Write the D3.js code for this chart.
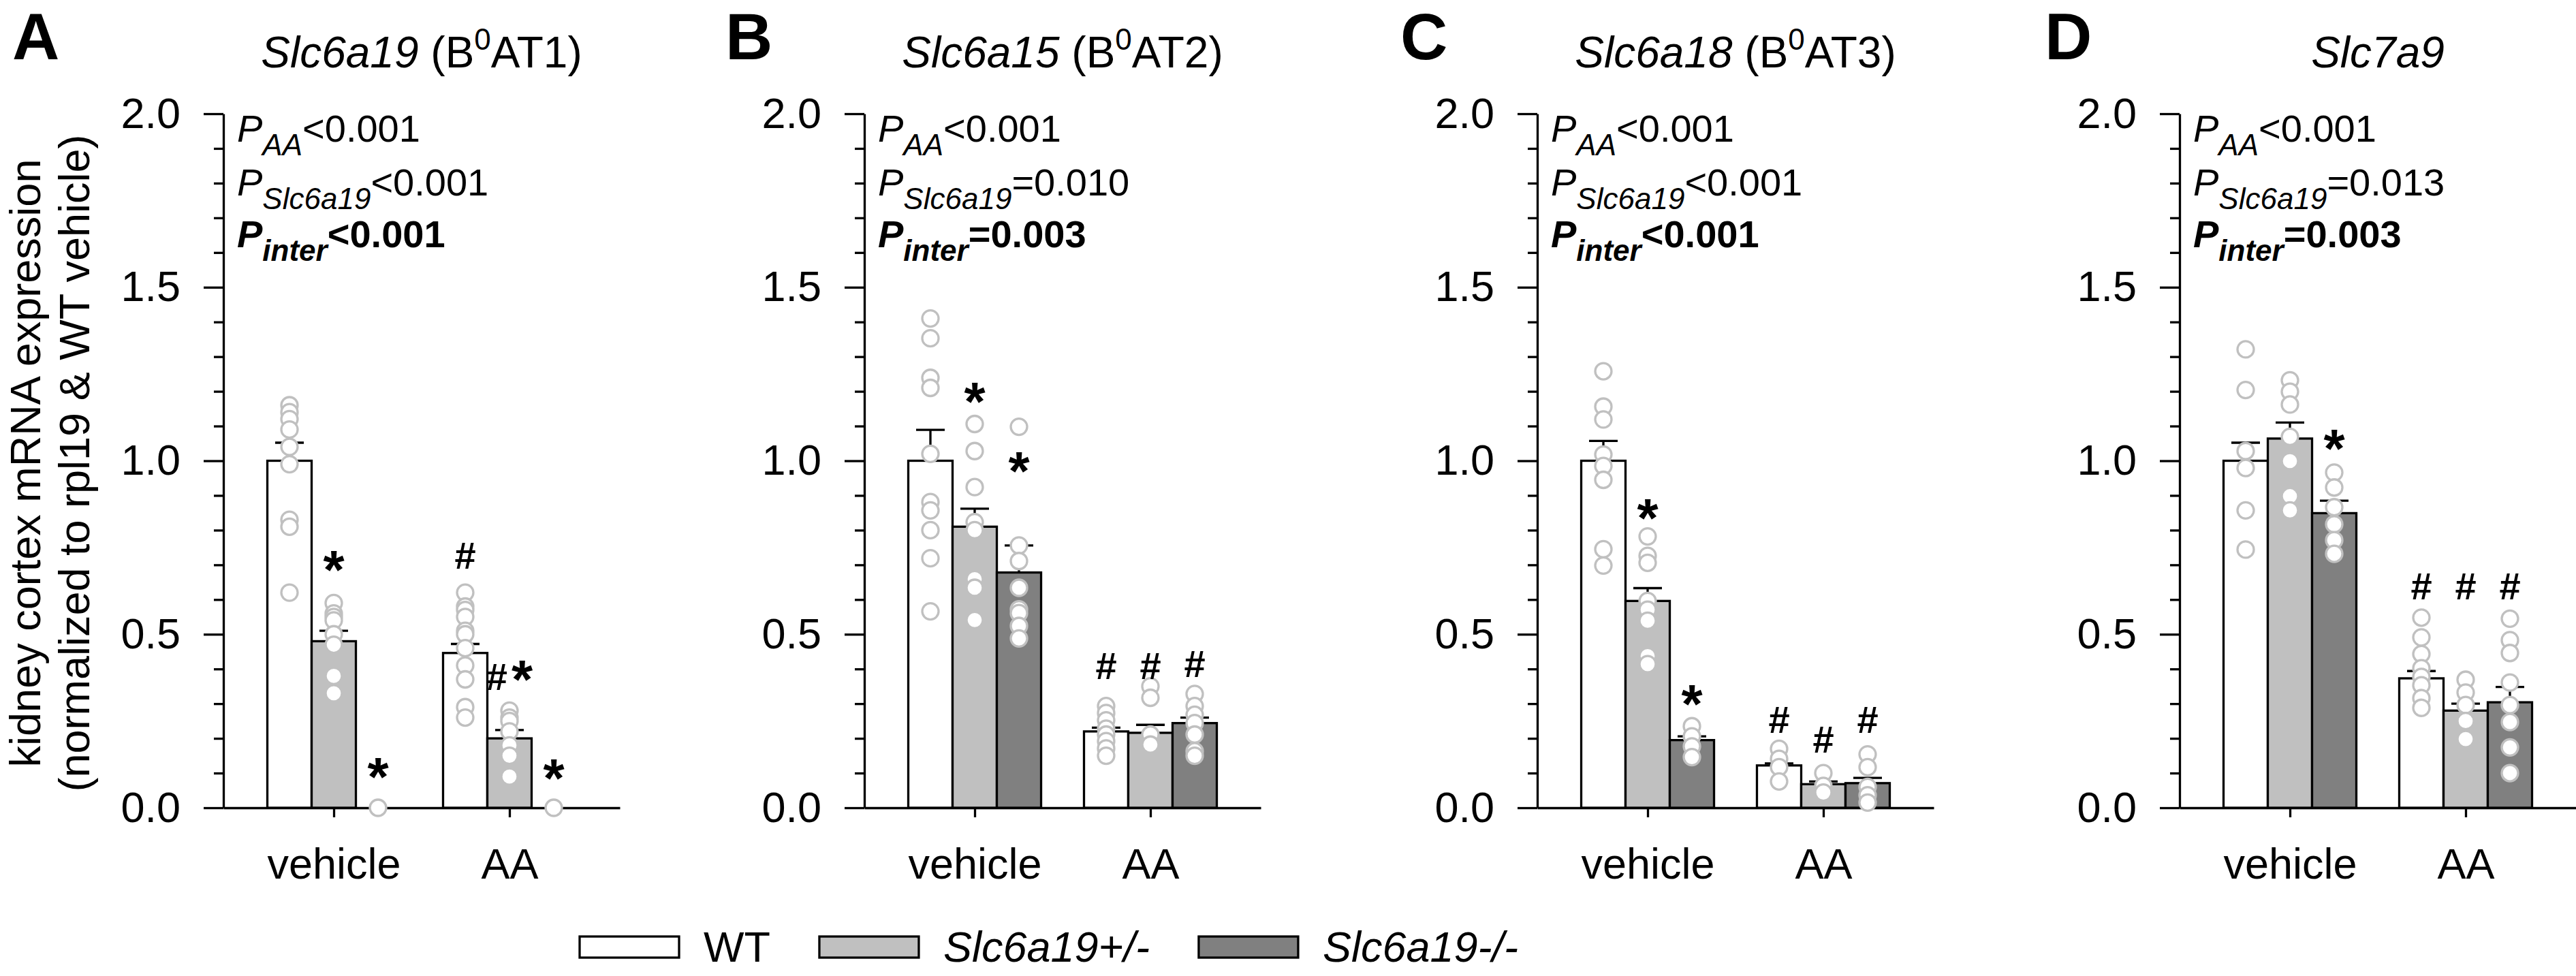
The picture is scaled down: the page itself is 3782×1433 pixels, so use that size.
<!DOCTYPE html>
<html>
<head>
<meta charset="utf-8">
<script src="https://cdn.jsdelivr.net/npm/d3@7"></script>
<style>
body { margin: 0; background: #fff; }
svg text { font-family: "Liberation Sans", Arial, sans-serif; }
</style>
</head>
<body>
<svg width="3782" height="1433"></svg>
<script>
// ---- data ----
var groups = ["vehicle", "AA"];
var genotypes = ["WT", "Slc6a19+/-", "Slc6a19-/-"];
var letters = ["A", "B", "C", "D"];
var genes = ["Slc6a19", "Slc6a15", "Slc6a18", "Slc7a9"];
var proteins = ["AT1", "AT2", "AT3", null];   // shown as (B^0 ...)
var pAA = ["<0.001", "<0.001", "<0.001", "<0.001"];
var pSlc = ["<0.001", "=0.010", "<0.001", "=0.013"];
var pInter = ["<0.001", "=0.003", "<0.001", "=0.003"];
var yTicks = [0, 0.5, 1.0, 1.5, 2.0];

// order of bars: vehicle WT, +/-, -/-, AA WT, +/-, -/-
var meansA = [1.00, 0.48, 0.00, 0.446, 0.20, 0.00];
var semA   = [0.052, 0.03, 0, 0.026, 0.024, 0];
var pointsA = [
  [1.16, 1.14, 1.12, 1.09, 1.04, 0.99, 0.83, 0.81, 0.62],
  [0.59, 0.56, 0.55, 0.54, 0.50, 0.47, 0.38, 0.33],
  [0.0],
  [0.62, 0.58, 0.57, 0.55, 0.51, 0.50, 0.46, 0.41, 0.37, 0.29, 0.26],
  [0.28, 0.26, 0.25, 0.22, 0.18, 0.15, 0.09],
  [0.0]
];
var marksA = ["", "*", "*", "#", "#*", "*"];
var markYA = [0, 0.685, 0.09, 0.728, 0.37, 0.085];

var meansB = [1.00, 0.81, 0.678, 0.22, 0.216, 0.244];
var semB   = [0.089, 0.052, 0.078, 0.011, 0.023, 0.016];
var pointsB = [
  [1.41, 1.353, 1.239, 1.21, 1.02, 0.881, 0.857, 0.80, 0.719, 0.566],
  [1.106, 1.028, 0.924, 0.823, 0.80, 0.659, 0.634, 0.541],
  [1.098, 0.756, 0.711, 0.634, 0.572, 0.561, 0.524, 0.488],
  [0.293, 0.273, 0.252, 0.228, 0.211, 0.192, 0.171, 0.15],
  [0.35, 0.317, 0.211, 0.182],
  [0.328, 0.293, 0.268, 0.244, 0.211, 0.163, 0.15]
];
var marksB = ["", "*", "*", "#", "#", "#"];
var markYB = [0, 1.17, 0.97, 0.41, 0.41, 0.415];

var meansC = [1.00, 0.596, 0.195, 0.122, 0.068, 0.071];
var semC   = [0.057, 0.037, 0.011, 0.006, 0.008, 0.015];
var pointsC = [
  [1.258, 1.156, 1.119, 1.018, 0.985, 0.945, 0.745, 0.698],
  [0.782, 0.726, 0.706, 0.596, 0.571, 0.539, 0.437, 0.414],
  [0.235, 0.206, 0.177, 0.146],
  [0.17, 0.141, 0.117, 0.076],
  [0.10, 0.063, 0.044],
  [0.154, 0.117, 0.06, 0.036, 0.015]
];
var marksC = ["", "*", "*", "#", "#", "#"];
var markYC = [0, 0.836, 0.299, 0.255, 0.198, 0.255];

var meansD = [1.00, 1.064, 0.849, 0.373, 0.28, 0.304];
var semD   = [0.052, 0.046, 0.036, 0.021, 0.02, 0.044];
var pointsD = [
  [1.321, 1.204, 1.028, 0.979, 0.857, 0.744],
  [1.232, 1.199, 1.162, 1.069, 0.999, 0.898, 0.857],
  [0.966, 0.923, 0.866, 0.817, 0.771, 0.732],
  [0.548, 0.491, 0.443, 0.402, 0.377, 0.353, 0.316, 0.288],
  [0.369, 0.332, 0.296, 0.25, 0.198],
  [0.545, 0.483, 0.446, 0.361, 0.296, 0.247, 0.174, 0.10]
];
var marksD = ["", "", "*", "#", "#", "#"];
var markYD = [0, 0, 1.036, 0.638, 0.638, 0.638];

var means = [meansA, meansB, meansC, meansD],
    sems = [semA, semB, semC, semD],
    points = [pointsA, pointsB, pointsC, pointsD],
    marks = [marksA, marksB, marksC, marksD],
    markY = [markYA, markYB, markYC, markYD];

// ---- layout ----
var svg = d3.select("svg"),
    panelX = [328, 1269, 2257, 3200],
    letterX = [18, 1065, 2056, 3002],
    plotW = 582,
    lw = 3.3,
    fs = 63;

var y = d3.scaleLinear().domain([0, 2]).range([1186, 167]);
var x = d3.scalePoint().domain(groups).range([0, plotW]).padding(0.628);
var xs = d3.scaleBand().domain(genotypes).range([-97.5, 97.5]);
var fill = d3.scaleOrdinal().domain(genotypes).range(["#ffffff", "#c0c0c0", "#808080"]);

function styleAxis(sel) {
  sel.selectAll("path, line").attr("stroke", "#000").attr("stroke-width", lw);
  sel.selectAll("text").attr("font-size", fs).attr("fill", "#000")
     .attr("font-family", "'Liberation Sans', Arial, sans-serif");
  sel.attr("font-family", null).attr("font-size", null);
}

letters.forEach(function(letter, i) {
  svg.append("text")
    .attr("x", letterX[i]).attr("y", 87)
    .attr("font-size", 96).attr("font-weight", "bold")
    .text(letter);

  var g = svg.append("g").attr("transform", "translate(" + panelX[i] + ",0)");

  // title
  var t = g.append("text").attr("x", plotW / 2).attr("y", 99)
    .attr("text-anchor", "middle").attr("font-size", 64);
  t.append("tspan").attr("font-style", "italic").text(genes[i]);
  if (proteins[i]) {
    t.append("tspan").text(" (B");
    t.append("tspan").attr("font-size", 44).attr("dy", -26).text("0");
    t.append("tspan").attr("dy", 26).text(proteins[i] + ")");
  }

  // minor y ticks
  var minor = d3.range(1, 20).filter(function(k) { return k % 5 != 0; })
    .map(function(k) { return k / 10; });
  g.append("g")
    .call(d3.axisLeft(y).tickValues(minor).tickSize(14).tickFormat(""))
    .call(function(s) { s.select(".domain").remove(); })
    .call(styleAxis);

  // major y axis
  g.append("g")
    .call(d3.axisLeft(y).tickValues(yTicks).tickSize(29).tickSizeOuter(0)
      .tickPadding(34).tickFormat(d3.format(".1f")))
    .call(styleAxis);

  // x axis
  g.append("g")
    .attr("transform", "translate(0," + y(0) + ")")
    .call(d3.axisBottom(x).tickSize(14).tickSizeOuter(0).tickPadding(45))
    .call(styleAxis);

  // bars
  var rows = [];
  groups.forEach(function(grp, gi) {
    genotypes.forEach(function(gt, ti) {
      var k = gi * 3 + ti;
      rows.push({group: grp, geno: gt, mean: means[i][k], sem: sems[i][k],
                 pts: points[i][k], mark: marks[i][k], markY: markY[i][k]});
    });
  });
  var cx = function(d) { return x(d.group) + xs(d.geno) + xs.bandwidth() / 2; };

  g.append("g").selectAll("rect")
    .data(rows.filter(function(d) { return d.mean > 0; }))
    .enter().append("rect")
    .attr("x", function(d) { return x(d.group) + xs(d.geno); })
    .attr("width", xs.bandwidth())
    .attr("y", function(d) { return y(d.mean); })
    .attr("height", function(d) { return y(0) - y(d.mean); })
    .attr("fill", function(d) { return fill(d.geno); })
    .attr("stroke", "#000").attr("stroke-width", lw);

  // error bars (upper only)
  var eb = g.append("g").attr("stroke", "#000").attr("stroke-width", lw)
    .selectAll("g").data(rows.filter(function(d) { return d.sem > 0; }))
    .enter().append("g");
  eb.append("line")
    .attr("x1", cx).attr("x2", cx)
    .attr("y1", function(d) { return y(d.mean); })
    .attr("y2", function(d) { return y(d.mean + d.sem); });
  eb.append("line")
    .attr("x1", function(d) { return cx(d) - 21; })
    .attr("x2", function(d) { return cx(d) + 21; })
    .attr("y1", function(d) { return y(d.mean + d.sem); })
    .attr("y2", function(d) { return y(d.mean + d.sem); });

  // individual animals
  g.append("g").selectAll("g").data(rows).enter().append("g")
    .selectAll("circle")
    .data(function(d) { return d.pts.map(function(v) { return {v: v, row: d}; }); })
    .enter().append("circle")
    .attr("cx", function(d) { return cx(d.row); })
    .attr("cy", function(d) { return y(d.v); })
    .attr("r", 12)
    .attr("fill", "#fff").attr("stroke", "#c0c0c0").attr("stroke-width", lw);

  // significance marks, centred on their value
  g.append("g").selectAll("text")
    .data(rows.filter(function(d) { return d.mark; }))
    .enter().append("text")
    .attr("x", cx).attr("y", 0)
    .attr("text-anchor", "middle")
    .attr("font-weight", "bold")
    .each(function(d) {
      var el = d3.select(this);
      d.mark.split("").forEach(function(c, j) {
        el.append("tspan")
          .attr("font-size", c == "*" ? 80 : 56)
          .attr("dx", j > 0 ? 6 : null)
          .attr("dy", c == "*" ? 12 : null)
          .text(c);
      });
      var b = this.getBBox();
      el.attr("y", y(d.markY) - (b.y + b.height / 2));
    });

  // P values
  var pv = g.append("g").attr("font-size", 56);
  [["AA", pAA[i]], ["Slc6a19", pSlc[i]], ["inter", pInter[i]]].forEach(function(p, j) {
    var tx = pv.append("text").attr("x", 20).attr("y", y(2) + [41, 120, 196][j]);
    if (j == 2) tx.attr("font-weight", "bold");
    tx.append("tspan").attr("font-style", "italic").text("P");
    tx.append("tspan").attr("font-style", "italic").attr("font-size", 44).attr("dy", 20).text(p[0]);
    tx.append("tspan").attr("dy", -20).text(p[1]);
  });

  // y axis title on the first panel only
  if (i == 0) {
    ["kidney cortex mRNA expression", "(normalized to rpl19 & WT vehicle)"].forEach(function(s, j) {
      svg.append("text")
        .attr("transform", "translate(" + (59 + j * 72) + ",680) rotate(-90)")
        .attr("text-anchor", "middle").attr("font-size", fs)
        .text(s);
    });
  }
});

// legend
var legend = svg.append("g").attr("font-size", 63);
var lx = 851;
genotypes.forEach(function(gt, i) {
  legend.append("rect")
    .attr("x", lx).attr("y", 1375).attr("width", 146).attr("height", 31)
    .attr("fill", fill(gt)).attr("stroke", "#000").attr("stroke-width", lw);
  var tx = legend.append("text").attr("x", lx + 182).attr("y", 1412)
    .attr("font-style", i == 0 ? "normal" : "italic")
    .text(gt);
  lx += 182 + tx.node().getComputedTextLength() + 72;
});
</script>
</body>
</html>
